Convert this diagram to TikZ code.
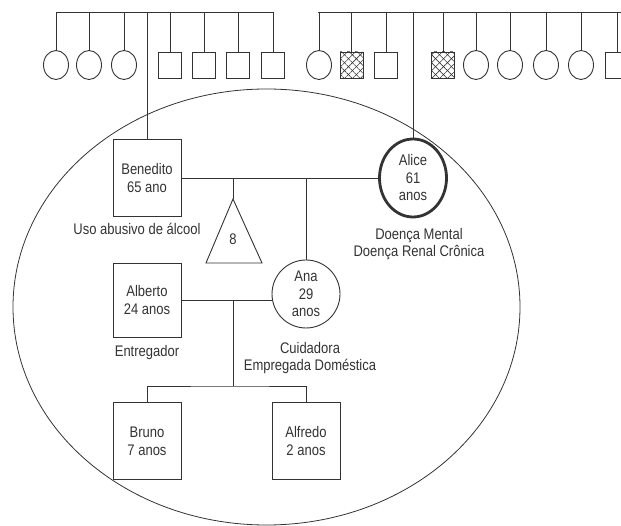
\documentclass[tikz,border=0pt]{standalone}
\usepackage{fontspec}
\setmainfont{Liberation Sans}
\usetikzlibrary{shapes.geometric,patterns.meta}
\newcommand{\ys}[1]{\scalebox{1}[1.18]{#1}}
\definecolor{ink}{gray}{0.2}
\begin{document}
\begin{tikzpicture}[x=1pt,y=-1pt,line width=0.9pt,color=ink,
  fem/.style={ellipse,draw=ink,minimum width=25pt,minimum height=29pt,inner sep=0pt},
  mal/.style={rectangle,draw=ink,minimum width=23pt,minimum height=26pt,inner sep=0pt},
  hatched/.style={mal,postaction={pattern={Lines[angle=45,distance=5.6pt,line width=0.6pt]},pattern color=ink},
                  postaction={pattern={Lines[angle=-45,distance=5.6pt,line width=0.6pt]},pattern color=ink}},
  person/.style={rectangle,draw=ink,minimum width=68pt,minimum height=77pt,inner sep=0pt,align=center,
                 text=ink,font=\fontsize{13pt}{18pt}\selectfont},
  txt/.style={align=center,text=ink,inner sep=0pt,font=\fontsize{13pt}{17.5pt}\selectfont}]
\useasboundingbox (0,0) rectangle (621,526);

% big household ellipse
\draw[line width=0.8pt] (266.5,307) ellipse [x radius=253.5, y radius=218];

% ---- left family of origin (Benedito)
\coordinate (la) at (56,12);
\coordinate (lb) at (273,12);
\draw (la) -- (lb);
\node[fem] (l1) at (56,65) {};
\node[fem] (l2) at (89,65) {};
\node[fem] (l3) at (124,65) {};
\node[mal] (l4) at (170,65) {};
\node[mal] (l5) at (204,65) {};
\node[mal] (l6) at (238,65) {};
\node[mal] (l7) at (273,65) {};
\foreach \n in {l1,l2,l3,l4,l5,l6,l7} \draw (\n.north |- la) -- (\n.north);

% ---- right family of origin (Alice)
\coordinate (ra) at (318,12);
\coordinate (rb) at (630,12);
\draw (ra) -- (rb);
\node[fem] (r1) at (319,65) {};
\node[hatched] (r2) at (351.5,65) {};
\node[mal] (r3) at (386,65) {};
\node[hatched] (r4) at (443,65) {};
\node[fem] (r5) at (476,65) {};
\node[fem] (r6) at (510,65) {};
\node[fem] (r7) at (546,65) {};
\node[fem] (r8) at (581,65) {};
\node[mal] (r9) at (617,65) {};
\foreach \n in {r1,r2,r3,r4,r5,r6,r7,r8,r9} \draw (\n.north |- ra) -- (\n.north);

% ---- couple
\node[person] (ben) at (147,178) {\ys{Benedito}\\\ys{65 ano}};
\node[ellipse,draw=ink,line width=2.8pt,minimum width=67pt,minimum height=78pt,inner sep=0pt,align=center,
      text=ink,font=\fontsize{13pt}{17.5pt}\selectfont] (ali) at (413,178) {\ys{Alice}\\\ys{61}\\\ys{anos}};
\draw (ben.north |- la) -- (ben.north);
\draw (ali.north |- ra) -- (ali.north);
\draw (ben.east) -- (ali.west);

% triangle (8 children)
\coordinate (tapex) at (233,199);
\coordinate (tl) at (206,263);
\coordinate (tr) at (262,263);
\draw (tapex) -- (tr) -- (tl) -- cycle;
\node[txt] (eight) at (233,239) {\ys{8}};
\draw (tapex |- ben.east) -- (tapex);

% Ana
\node[ellipse,draw=ink,minimum width=68pt,minimum height=68pt,inner sep=0pt,align=center,
      text=ink,font=\fontsize{13pt}{17.5pt}\selectfont] (ana) at (306,294) {\ys{Ana}\\\ys{29}\\\ys{anos}};
\draw (ana.north |- ben.east) -- (ana.north);

% Alberto
\node[person,minimum height=74pt] (alb) at (147,300) {\ys{Alberto}\\\ys{24 anos}};
\draw (alb.east) -- (alb.east -| ana.west);

% children
\coordinate (m2) at (233,300);
\coordinate (sib) at (233,386);
\draw (m2) -- (sib);
\node[person] (bru) at (147,441) {\ys{Bruno}\\\ys{7 anos}};
\node[person] (alf) at (306,441) {\ys{Alfredo}\\\ys{2 anos}};
\draw (bru.north) |- (sib) -| (alf.north);

% labels
\node[txt] (lben) at (137,229) {\ys{Uso abusivo de álcool}};
\node[txt] (lali) at (419,244) {\ys{Doença Mental}\\\ys{Doença Renal Crônica}};
\node[txt] (lalb) at (147,353) {\ys{Entregador}};
\node[txt] (lana) at (310,358) {\ys{Cuidadora}\\\ys{Empregada Doméstica}};
\end{tikzpicture}
\end{document}
